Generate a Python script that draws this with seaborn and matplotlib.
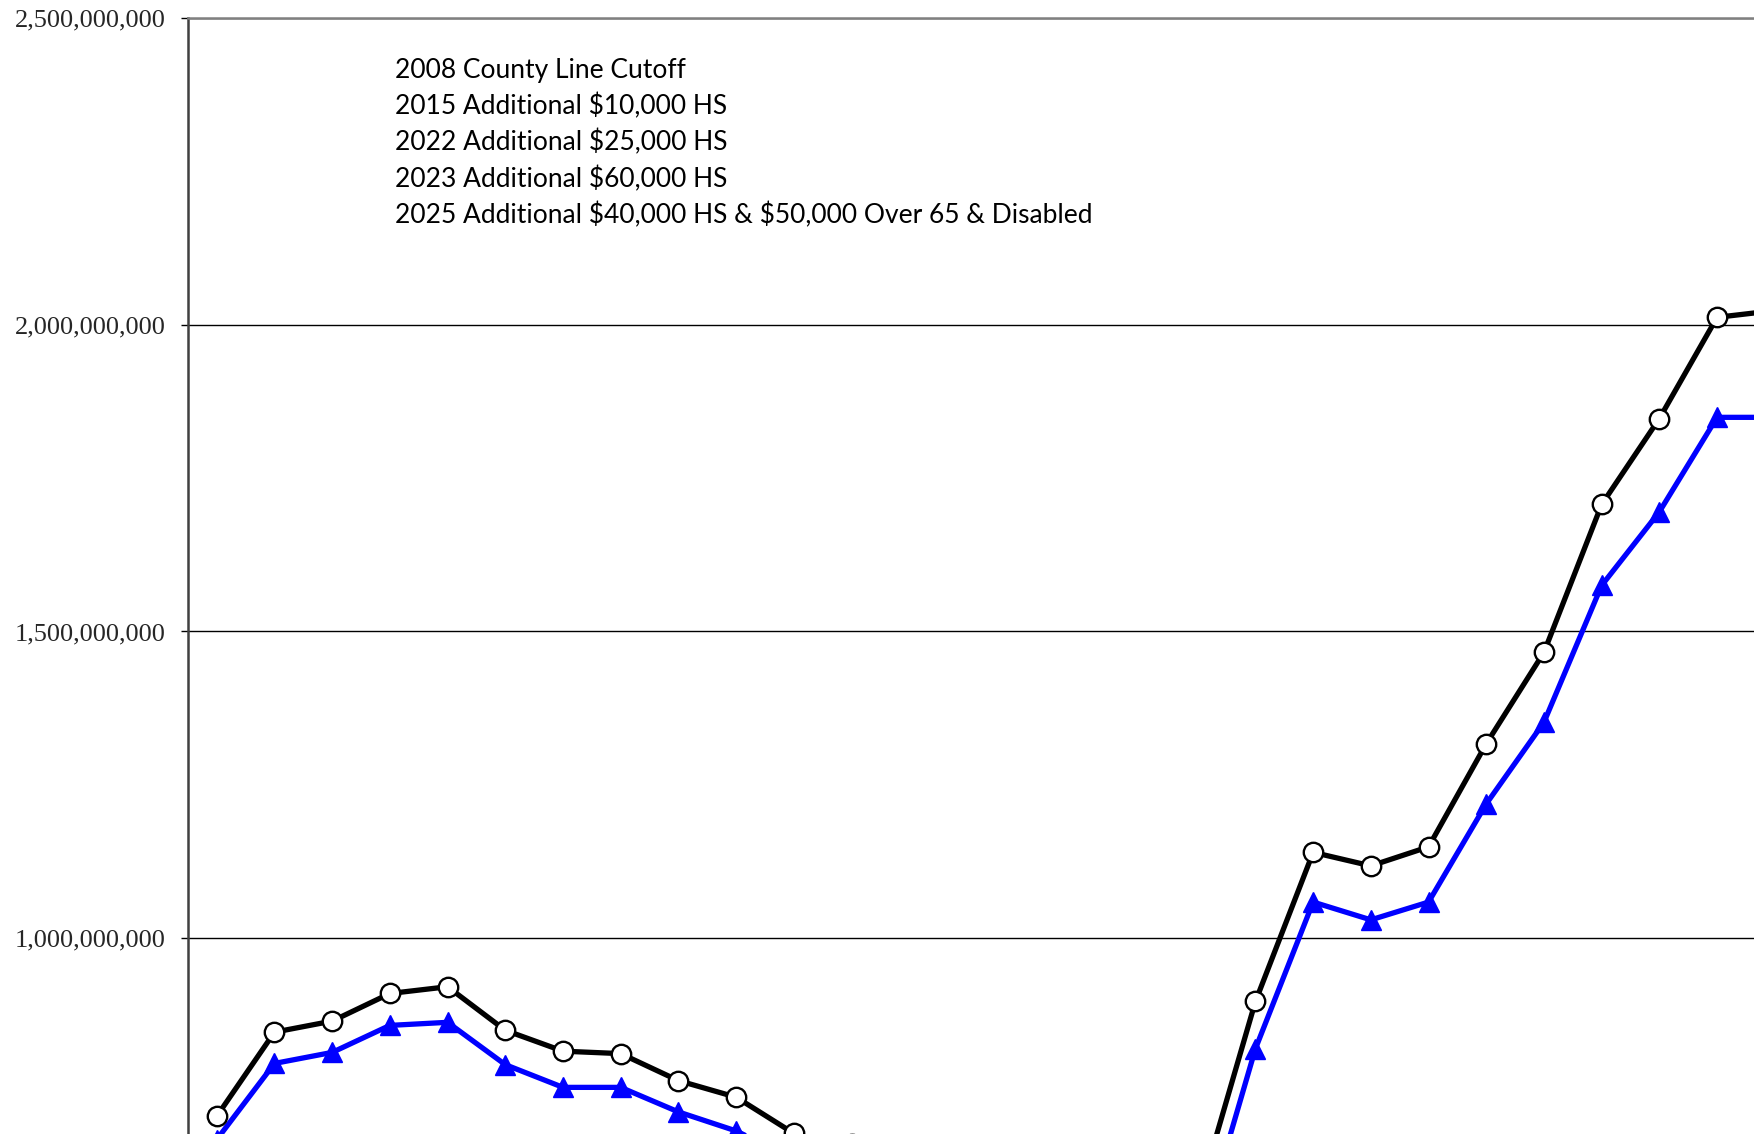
import matplotlib
matplotlib.use("Agg")
import matplotlib.pyplot as plt
import seaborn as sns
import pandas as pd
from matplotlib.ticker import FuncFormatter

# ---- data (hidden part estimated) ----
years = list(range(1999, 2027))
total_value = [710e6, 847e6, 865e6, 910e6, 921e6, 850e6, 816e6, 812e6, 768e6, 741e6,
               682e6, 664e6, 640e6, 618e6, 600e6, 588e6, 580e6, 574e6, 897e6, 1140e6,
               1118e6, 1149e6, 1317e6, 1466e6, 1707e6, 1847e6, 2012e6, 2023e6]
taxable_value = [672e6, 796e6, 814e6, 858e6, 863e6, 794e6, 757e6, 757e6, 717e6, 686e6,
                 640e6, 605e6, 570e6, 545e6, 525e6, 510e6, 500e6, 498e6, 820e6, 1059e6,
                 1030e6, 1059e6, 1219e6, 1352e6, 1575e6, 1695e6, 1849e6, 1849e6]
y_ticks = [1.0e9, 1.5e9, 2.0e9, 2.5e9]
notes = ["2008 County Line Cutoff",
         "2015 Additional $10,000 HS",
         "2022 Additional $25,000 HS",
         "2023 Additional $60,000 HS",
         "2025 Additional $40,000 HS & $50,000 Over 65 & Disabled"]

df = pd.DataFrame({"idx": range(len(years)), "year": years,
                   "total": total_value, "taxable": taxable_value})

sns.set_style("white")
plt.rcParams["font.family"] = ["Liberation Serif", "DejaVu Serif"]

fig = plt.figure(figsize=(17.54, 11.34), dpi=100)
ax = fig.add_axes([168 / 1568, 0.0, 1 - 168 / 1568, 1 - 16 / 1014])

sns.lineplot(data=df, x="idx", y="total", ax=ax, color="black", lw=3.8,
             marker="o", markersize=14, markerfacecolor="white",
             markeredgecolor="black", markeredgewidth=1.7, zorder=4)
sns.lineplot(data=df, x="idx", y="taxable", ax=ax, color="#0000FF", lw=3.8,
             marker="^", markersize=14, markerfacecolor="#0000FF",
             markeredgecolor="#0000FF", markeredgewidth=1, zorder=3)

ax.set_xlim(-0.5, 26.64)
ax.set_ylim(681e6, 2.5e9)
ax.set_yticks(y_ticks)
ax.yaxis.set_major_formatter(FuncFormatter(lambda v, p: f"{int(v):,}"))
ax.set_xticks([])
ax.set_xlabel("")
ax.set_ylabel("")
ax.tick_params(axis="y", direction="out", length=5, width=1, color="black",
               pad=11, labelsize=19, left=True)
ax.yaxis.grid(True, color="black", lw=1)
ax.set_axisbelow(True)

for s in ["bottom", "right"]:
    ax.spines[s].set_visible(False)
ax.spines["top"].set_color("#808080")
ax.spines["top"].set_linewidth(1.8)
ax.spines["left"].set_color("#404040")
ax.spines["left"].set_linewidth(1.8)

line_y0 = 1 - 63 / 1014
step = 32.3 / 1014
for k, t in enumerate(notes):
    fig.text(353 / 1568, line_y0 - k * step, t, ha="left", va="center",
             fontsize=19, family=["Lato", "DejaVu Sans"], color="black",
             parse_math=False)

fig.savefig("out.png", dpi=100)
